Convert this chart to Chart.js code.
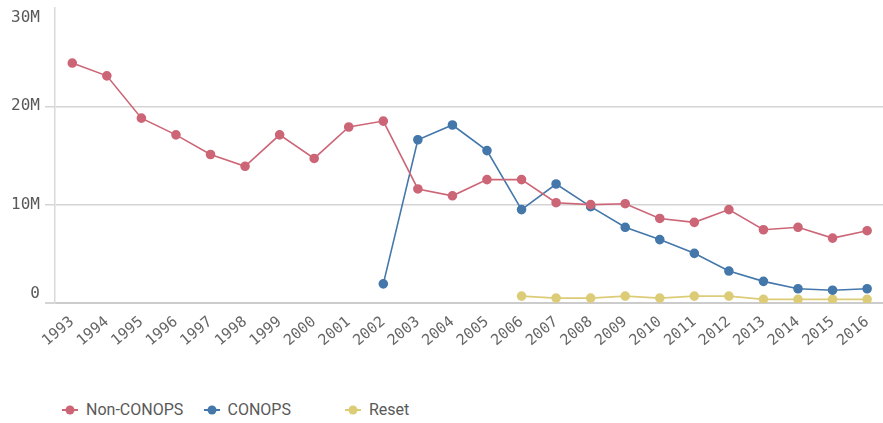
<!DOCTYPE html>
<html>
<head>
<meta charset="utf-8">
<script src="https://cdn.jsdelivr.net/npm/chart.js@4"></script>
<style>
  html, body { margin: 0; padding: 0; background: #fff; overflow: hidden; }
  #wrap { position: relative; width: 890px; height: 351px; }
  #legend { position: absolute; left: 60px; top: 400px; display: flex; font-family: Roboto, "Noto Sans", sans-serif; font-size: 16px; color: #595959; }
  .item { width: 141.5px; display: flex; align-items: center; }
  .item canvas { margin-right: 6px; }
</style>
</head>
<body>
<div id="wrap"><canvas id="chart" width="890" height="351"></canvas></div>
<div id="legend"></div>
<script>
// years on the x axis
const years = ["1993","1994","1995","1996","1997","1998","1999","2000","2001","2002","2003","2004",
  "2005","2006","2007","2008","2009","2010","2011","2012","2013","2014","2015","2016"];

// values in millions
const nonConops = [24.4, 23.1, 18.8, 17.1, 15.1, 13.9, 17.1, 14.7, 17.9, 18.5, 11.6, 10.9,
  12.55, 12.55, 10.2, 10.0, 10.1, 8.6, 8.2, 9.5, 7.45, 7.7, 6.6, 7.35];
const conops = [null, null, null, null, null, null, null, null, null, 1.95, 16.6, 18.1,
  15.5, 9.5, 12.1, 9.8, 7.7, 6.45, 5.05, 3.25, 2.2, 1.45, 1.3, 1.45];
const reset = [null, null, null, null, null, null, null, null, null, null, null, null,
  null, 0.7, 0.5, 0.5, 0.7, 0.5, 0.7, 0.7, 0.37, 0.37, 0.37, 0.37];

const seriesNames = ["Non-CONOPS", "CONOPS", "Reset"];
const seriesColors = ["#cc6677", "#4477aa", "#ddcc77"];
const yTicks = ["0", "10M", "20M", "30M"];

const seriesData = [nonConops, conops, reset];

const datasets = seriesData.map((vals, i) => ({
  label: seriesNames[i],
  data: vals.map(v => v === null ? null : v * 1e6),
  borderColor: seriesColors[i],
  backgroundColor: seriesColors[i],
  borderWidth: 1.6,
  pointRadius: 4,
  pointHoverRadius: 4,
  tension: 0,
  spanGaps: false
}));

const tickFont = { family: "'DejaVu Sans Mono', monospace", size: 15 };

new Chart(document.getElementById("chart"), {
  type: "line",
  data: { labels: years, datasets: datasets },
  options: {
    responsive: false,
    animation: false,
    plugins: { legend: { display: false }, tooltip: { enabled: false } },
    scales: {
      x: {
        offset: true,
        grid: { display: false, drawTicks: false },
        border: { color: "#cccccc", width: 2 },
        ticks: { color: "#666666", font: tickFont, maxRotation: 40, minRotation: 40, padding: 10, autoSkip: false },
        afterFit: s => { s.height = 48; }
      },
      y: {
        min: 0,
        max: 30e6,
        grid: {
          color: ctx => ctx.tick && ctx.tick.value === 30e6 ? "rgba(0,0,0,0)" : "#d4d4d4",
          lineWidth: ctx => ctx.tick && ctx.tick.value === 0 ? 2 : 1.5,
          tickLength: 10
        },
        border: { color: "#d9d9d9", width: 1.5 },
        ticks: {
          stepSize: 10e6,
          color: "#595959",
          font: { family: "'DejaVu Sans Mono', monospace", size: 16 },
          padding: 5,
          // edge labels sit inside the axis range, like the original
          callback: (v, i, arr) => {
            if (i === 0) return [yTicks[i], ""];
            if (i === arr.length - 1) return ["", yTicks[i]];
            return yTicks[i];
          }
        },
        afterFit: s => { s.width = 55; s.paddingTop = 8; s.paddingBottom = 0; }
      }
    }
  }
});

// legend: line + dot icon and label, fixed-width slots like the original
const legend = document.getElementById("legend");
seriesNames.forEach((name, i) => {
  const item = document.createElement("div");
  item.className = "item";
  const c = document.createElement("canvas");
  c.width = 20; c.height = 12;
  const g = c.getContext("2d");
  g.strokeStyle = seriesColors[i];
  g.lineWidth = 2;
  g.beginPath(); g.moveTo(2, 6); g.lineTo(18, 6); g.stroke();
  g.fillStyle = seriesColors[i];
  g.beginPath(); g.arc(10, 6, 4.5, 0, Math.PI * 2); g.fill();
  item.appendChild(c);
  const t = document.createElement("span");
  t.textContent = name;
  item.appendChild(t);
  legend.appendChild(item);
});
</script>
</body>
</html>
